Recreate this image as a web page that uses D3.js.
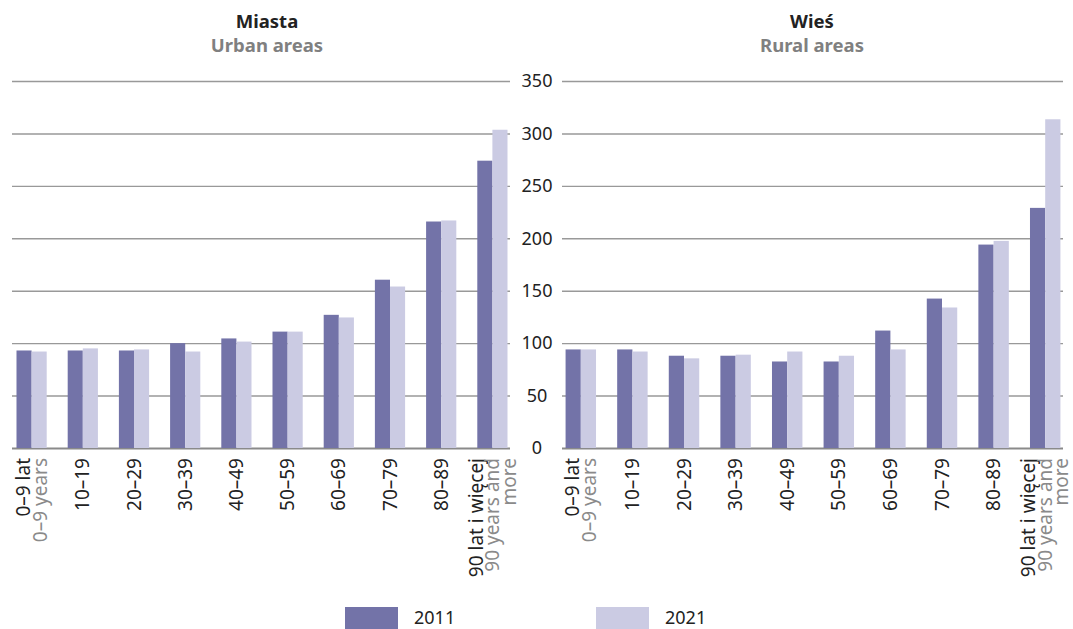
<!DOCTYPE html>
<html>
<head>
<meta charset="utf-8">
<script src="https://cdn.jsdelivr.net/npm/d3@7/dist/d3.min.js"></script>
<style>
  html, body { margin: 0; padding: 0; background: #fff; }
  svg { display: block; font-family: "Noto Sans", "Open Sans", sans-serif; }
</style>
</head>
<body>
<svg id="chart" width="1073" height="629"></svg>
<script>
const categories = ["0-9", "10-19", "20-29", "30-39", "40-49", "50-59", "60-69", "70-79", "80-89", "90+"];
const labelsPL = ["0–9 lat", "10–19", "20–29", "30–39", "40–49", "50–59", "60–69", "70–79", "80–89", "90 lat i więcej"];
const labelsEN = [["0–9 years"], [], [], [], [], [], [], [], [], ["90 years and", "more"]];
const years = ["2011", "2021"];
const urban2011 = [93, 93, 93, 100, 104.5, 111, 127, 160.5, 216, 274];
const urban2021 = [92, 95, 94, 92, 101.5, 111, 124.5, 154, 217, 303.5];
const rural2011 = [94, 94, 88, 88, 82.5, 82.5, 112, 142.5, 194, 229];
const rural2021 = [94, 92, 85.5, 89, 92, 88, 94, 134, 197.5, 313.5];
const yTicks = [0, 50, 100, 150, 200, 250, 300, 350];
const panelTitles = [["Miasta", "Urban areas"], ["Wieś", "Rural areas"]];

const colors = { "2011": "#7373a8", "2021": "#cbcbe3" };
const svg = d3.select("#chart");

const y = d3.scaleLinear().domain([0, 350]).range([448, 81]);

const panels = [
  { title: panelTitles[0], v2011: urban2011, v2021: urban2021, band: [6, 518], grid: [12, 510], titleX: 267 },
  { title: panelTitles[1], v2011: rural2011, v2021: rural2021, band: [555, 1071], grid: [562, 1063], titleX: 812 }
];

panels.forEach(p => {
  const g = svg.append("g");
  const x0 = d3.scaleBand().domain(categories).range(p.band).paddingInner(0.41).paddingOuter(0.205);
  const x1 = d3.scaleBand().domain(years).range([0, x0.bandwidth()]).padding(0);

  // gridlines
  g.selectAll("line.grid").data(yTicks).join("line")
    .attr("x1", p.grid[0]).attr("x2", p.grid[1])
    .attr("y1", d => y(d) + 0.5).attr("y2", d => y(d) + 0.5)
    .attr("stroke", d => d === 0 ? "#8a8a8a" : "#999")
    .attr("stroke-width", d => d === 0 ? 2 : 1.4);

  // bars
  const rows = categories.map((c, i) => ({ c, vals: [{ k: "2011", v: p.v2011[i] }, { k: "2021", v: p.v2021[i] }] }));
  const grp = g.selectAll("g.cat").data(rows).join("g")
    .attr("transform", d => `translate(${x0(d.c)},0)`);
  grp.selectAll("rect").data(d => d.vals).join("rect")
    .attr("x", d => x1(d.k))
    .attr("width", x1.bandwidth())
    .attr("y", d => y(d.v))
    .attr("height", d => y(0) - y(d.v))
    .attr("fill", d => colors[d.k]);

  // x labels (rotated)
  categories.forEach((c, i) => {
    const lines = [{ t: labelsPL[i], fill: "#222" }].concat(labelsEN[i].map(t => ({ t, fill: "#8a8a8a" })));
    const cx = x0(c) + x0.bandwidth() / 2;
    const lg = g.append("g").attr("transform", `translate(${cx},458) rotate(-90)`);
    const spacing = lines.length > 2 ? 16.5 : 17.5;
    lines.forEach((ln, j) => {
      const off = (j - (lines.length - 1) / 2) * spacing;
      lg.append("text")
        .attr("x", 0).attr("y", off)
        .attr("dy", "0.35em")
        .attr("text-anchor", "end")
        .attr("font-size", 19)
        .attr("fill", ln.fill)
        .text(ln.t);
    });
  });

  // titles
  svg.append("text").attr("x", p.titleX).attr("y", 28).attr("text-anchor", "middle")
    .attr("font-size", 18.5).attr("font-weight", "bold").attr("fill", "#222").text(p.title[0]);
  svg.append("text").attr("x", p.titleX).attr("y", 52).attr("text-anchor", "middle")
    .attr("font-size", 18.5).attr("font-weight", "bold").attr("fill", "#808080").text(p.title[1]);
});

// central y axis labels
const yAxis = d3.axisRight(y).tickValues(yTicks).tickSize(0).tickPadding(0);
const ya = svg.append("g").attr("transform", "translate(537,0)").call(yAxis);
ya.select(".domain").remove();
ya.selectAll("text").attr("text-anchor", "middle").attr("font-size", 18)
  .attr("font-family", "'Noto Sans', sans-serif").attr("fill", "#222").attr("x", 0);

// legend
const legendX = { "2011": 345, "2021": 596 };
years.forEach(k => {
  svg.append("rect").attr("x", legendX[k]).attr("y", 607).attr("width", 53).attr("height", 24).attr("fill", colors[k]);
  svg.append("text").attr("x", legendX[k] + 69).attr("y", 624).attr("font-size", 18).attr("fill", "#222").text(k);
});
</script>
</body>
</html>
